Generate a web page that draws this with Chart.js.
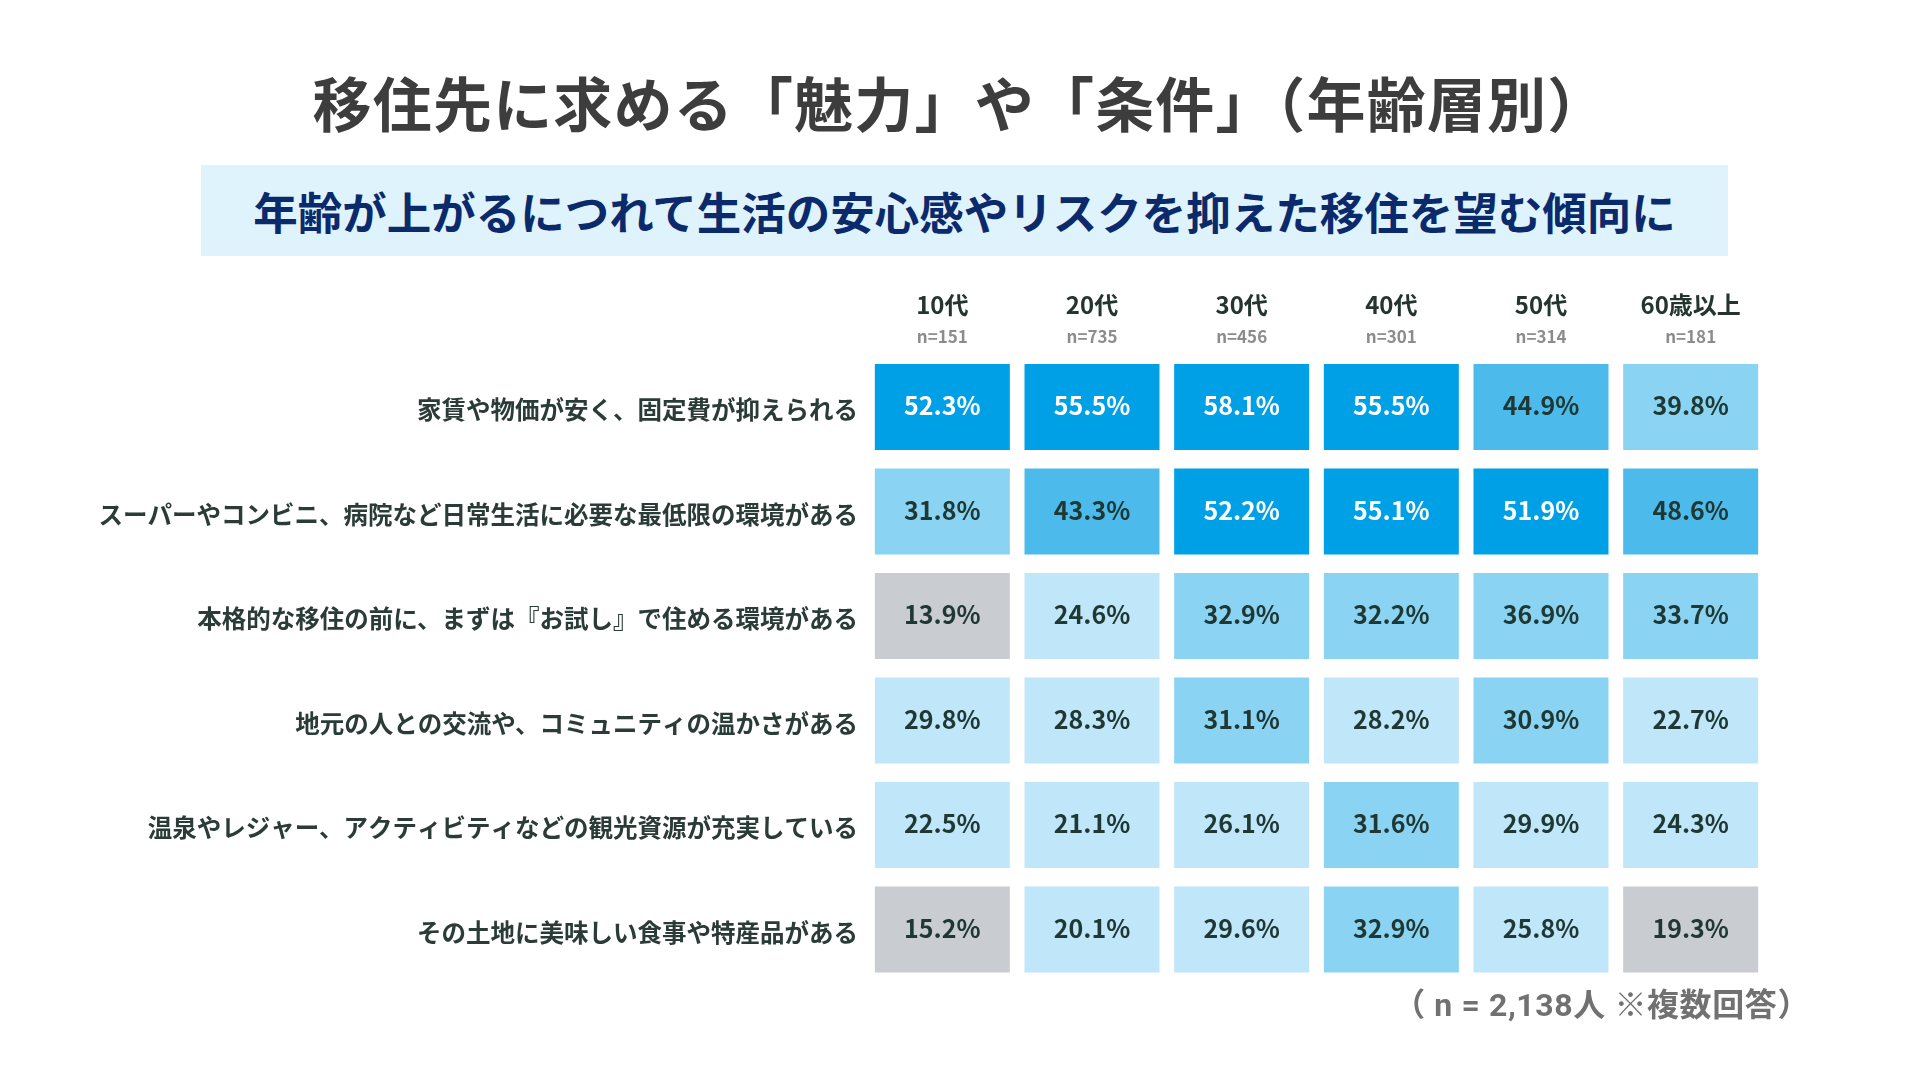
<!DOCTYPE html>
<html lang="ja">
<head>
<meta charset="utf-8">
<title>移住先に求める「魅力」や「条件」（年齢層別）</title>
<script src="https://cdn.jsdelivr.net/npm/chart.js@4.4.1/dist/chart.umd.min.js"></script>
<style>
  html, body { margin: 0; padding: 0; background: #ffffff; }
  body { width: 1920px; height: 1080px; position: relative; overflow: hidden;
         font-family: "Noto Sans CJK JP", "Noto Sans", sans-serif; }
  #title { position: absolute; left: 0; top: 72px; width: 1920px; text-align: center;
           font-size: 59px; line-height: 59px; font-weight: 700; color: #3d3d3d; white-space: nowrap;
           letter-spacing: 1.2px; }
  #subbox { position: absolute; left: 201px; top: 165px; width: 1527px; height: 91px;
            background: #dff3fd; }
  #subtitle { position: absolute; left: 201px; top: 165px; width: 1527px; height: 91px;
              line-height: 91px; text-align: center; font-size: 44.5px; font-weight: 700;
              color: #0b2a6b; white-space: nowrap; }
  #note { position: absolute; right: 110px; top: 988px; font-size: 32px; line-height: 34px;
          font-family: Roboto, "Noto Sans CJK JP", sans-serif; letter-spacing: 0.6px;
          font-weight: 700; color: #717171; white-space: nowrap; }
  #chart { position: absolute; left: 0; top: 0; }
</style>
</head>
<body>
<div id="title">移住先に求める「魅力」や「条件」（年齢層別）</div>
<div id="subbox"></div>
<div id="subtitle">年齢が上がるにつれて生活の安心感やリスクを抑えた移住を望む傾向に</div>
<canvas id="chart" width="1920" height="1080"></canvas>
<div id="note">（ n = 2,138人 ※複数回答）</div>
<script>
// ---- data ----
const ages = ["10代", "20代", "30代", "40代", "50代", "60歳以上"];
const sampleSizes = ["n=151", "n=735", "n=456", "n=301", "n=314", "n=181"];
const items = [
  "家賃や物価が安く、固定費が抑えられる",
  "スーパーやコンビニ、病院など日常生活に必要な最低限の環境がある",
  "本格的な移住の前に、まずは『お試し』で住める環境がある",
  "地元の人との交流や、コミュニティの温かさがある",
  "温泉やレジャー、アクティビティなどの観光資源が充実している",
  "その土地に美味しい食事や特産品がある"
];
const teens      = [52.3, 31.8, 13.9, 29.8, 22.5, 15.2];
const twenties   = [55.5, 43.3, 24.6, 28.3, 21.1, 20.1];
const thirties   = [58.1, 52.2, 32.9, 31.1, 26.1, 29.6];
const forties    = [55.5, 55.1, 32.2, 28.2, 31.6, 32.9];
const fifties    = [44.9, 51.9, 36.9, 30.9, 29.9, 25.8];
const sixtyPlus  = [39.8, 48.6, 33.7, 22.7, 24.3, 19.3];
const valuesByAge = [teens, twenties, thirties, forties, fifties, sixtyPlus];

// ---- styles ----
function cellColor(v) {
  if (v >= 50) return "#00a0e6";
  if (v >= 40) return "#4cbbec";
  if (v >= 30) return "#8ad3f3";
  if (v >= 20) return "#c0e6f9";
  return "#c9ccd1";
}
function textColor(v) { return v >= 50 ? "#ffffff" : "#1f3833"; }
const FONT = '"Noto Sans CJK JP", "Noto Sans", sans-serif';
const HALF_W = 0.451;

const cellLabels = {
  id: "cellLabels",
  afterDatasetsDraw(chart) {
    const ctx = chart.ctx;
    ctx.save();
    ctx.textAlign = "center";
    ctx.textBaseline = "middle";
    ctx.font = "700 25px " + FONT;
    chart.data.datasets.forEach((ds, j) => {
      const meta = chart.getDatasetMeta(j);
      meta.data.forEach((el, i) => {
        const v = valuesByAge[j][i];
        ctx.fillStyle = textColor(v);
        ctx.fillText(v.toFixed(1) + "%", (el.x + el.base) / 2, el.y - 1.5);
      });
    });
    // column headers
    const xs = chart.scales.x;
    const top = chart.chartArea.top;
    ages.forEach((a, j) => {
      const x = xs.getPixelForValue(j);
      ctx.fillStyle = "#24352f";
      ctx.font = "700 24px " + FONT;
      ctx.fillText(a, x, top - 49.5);
      ctx.fillStyle = "#8c8c8c";
      ctx.font = "700 17px " + FONT;
      ctx.fillText(sampleSizes[j], x, top - 18.5);
    });
    ctx.restore();
  }
};

new Chart(document.getElementById("chart"), {
  type: "bar",
  data: {
    labels: items,
    datasets: ages.map((a, j) => ({
      label: a,
      data: items.map(() => [j - HALF_W, j + HALF_W]),
      backgroundColor: valuesByAge[j].map(cellColor),
      borderWidth: 0,
      borderSkipped: false,
      grouped: false,
      categoryPercentage: 1,
      barPercentage: 0.823
    }))
  },
  options: {
    indexAxis: "y",
    responsive: false,
    animation: false,
    devicePixelRatio: 1,
    layout: { padding: { left: 0, right: 154.5, top: 354.75, bottom: 98.25 } },
    plugins: { legend: { display: false }, tooltip: { enabled: false }, title: { display: false } },
    scales: {
      x: { type: "linear", min: -0.5, max: 5.5, display: false },
      y: {
        type: "category",
        grid: { display: false, drawTicks: false },
        border: { display: false },
        ticks: {
          font: { family: FONT, size: 24.5, weight: "700" },
          color: "#2b3b37",
          padding: 9.5,
          labelOffset: 3
        },
        afterFit(scale) { scale.width = 867.5; }
      }
    }
  },
  plugins: [cellLabels]
});
</script>
</body>
</html>
